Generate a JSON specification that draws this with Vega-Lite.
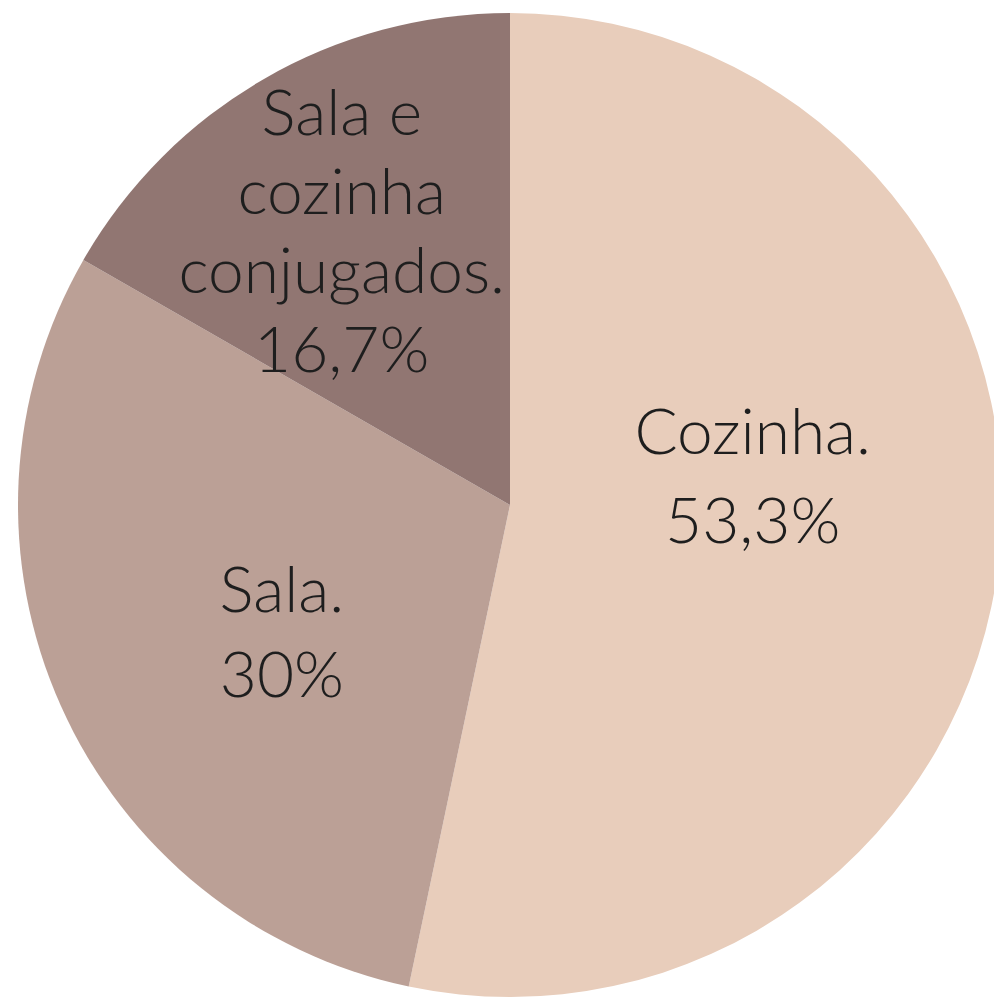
{
  "$schema": "https://vega.github.io/schema/vega-lite/v6.json",
  "width": 1020,
  "height": 1010,
  "padding": 0,
  "autosize": {"type": "none"},
  "background": "white",
  "config": {"view": {"stroke": null}},
  "data": {
    "values": [
      {"categoria": "Cozinha", "valor": 53.3, "ordem": 1, "rotulo": "Cozinha.\n53,3%"},
      {"categoria": "Sala", "valor": 30, "ordem": 2, "rotulo": "Sala.\n30%"},
      {"categoria": "Sala e cozinha conjugados", "valor": 16.7, "ordem": 3, "rotulo": "Sala e\ncozinha\nconjugados.\n16,7%"}
    ]
  },
  "encoding": {
    "theta": {"field": "valor", "type": "quantitative", "stack": true},
    "order": {"field": "ordem", "type": "quantitative"}
  },
  "layer": [
    {
      "mark": {"type": "arc", "radius": 492, "stroke": null},
      "encoding": {
        "color": {
          "field": "categoria",
          "type": "nominal",
          "legend": null,
          "scale": {
            "domain": ["Cozinha", "Sala", "Sala e cozinha conjugados"],
            "range": ["#E8CDBB", "#BBA096", "#917672"]
          }
        }
      }
    },
    {
      "mark": {"type": "text", "radius": 244, "dy": -95, "lineBreak": "\n", "lineHeight": 89, "font": "Lato", "fontWeight": 300, "fontSize": 64, "color": "#1e1e1e", "align": "center", "baseline": "middle"},
      "encoding": {
        "text": {"condition": {"test": "datum.categoria === 'Cozinha'", "field": "rotulo"}, "value": ""}
      }
    },
    {
      "mark": {"type": "text", "radius": 250, "dy": -14, "lineBreak": "\n", "lineHeight": 85, "font": "Lato", "fontWeight": 300, "fontSize": 64, "color": "#1e1e1e", "align": "center", "baseline": "middle"},
      "encoding": {
        "text": {"condition": {"test": "datum.categoria === 'Sala'", "field": "rotulo"}, "value": ""}
      }
    },
    {
      "mark": {"type": "text", "radius": 320, "dx": -8, "dy": -112, "lineBreak": "\n", "lineHeight": 79, "font": "Lato", "fontWeight": 300, "fontSize": 64, "color": "#1e1e1e", "align": "center", "baseline": "middle"},
      "encoding": {
        "text": {"condition": {"test": "datum.categoria === 'Sala e cozinha conjugados'", "field": "rotulo"}, "value": ""}
      }
    }
  ]
}
